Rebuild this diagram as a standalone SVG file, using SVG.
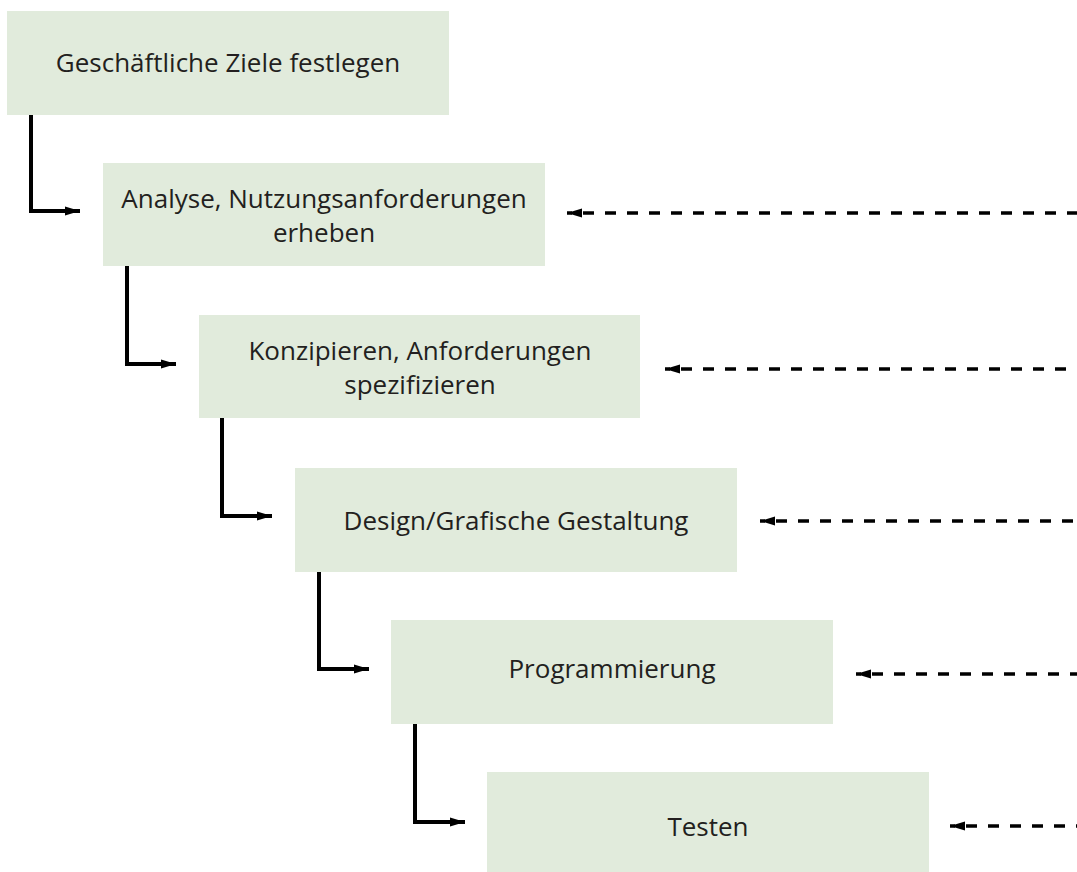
<svg xmlns="http://www.w3.org/2000/svg" width="1077" height="872" viewBox="0 0 1077 872">
  <style>
    .box { fill: #e1ebdc; }
    .label { font-family: "Open Sans", "Liberation Sans", sans-serif; font-size: 26px; fill: #231f20; text-anchor: middle; }
    .step { fill: none; stroke: #000; stroke-width: 4; marker-end: url(#solidHead); }
    .back { fill: none; stroke: #000; stroke-width: 3.5; stroke-dasharray: 11 11; stroke-dashoffset: 6; marker-start: url(#dashHead); }
  </style>
  <defs>
    <marker id="solidHead" markerUnits="userSpaceOnUse" markerWidth="16" markerHeight="12" refX="15" refY="6" orient="auto">
      <path d="M0,1.5 L15,6 L0,10.5 Z" fill="#000"/>
    </marker>
    <marker id="dashHead" markerUnits="userSpaceOnUse" markerWidth="16" markerHeight="12" refX="0" refY="6" orient="auto">
      <path d="M0,6 L15,1.5 L15,10.5 Z" fill="#000"/>
    </marker>
  </defs>
  <rect width="1077" height="872" fill="#fff"/>

  <g id="node-ziele">
    <rect class="box" x="7" y="11" width="442" height="104"/>
    <text class="label" x="228" y="72">Geschäftliche Ziele festlegen</text>
  </g>
  <g id="node-analyse">
    <rect class="box" x="103" y="163" width="442" height="103"/>
    <text class="label" x="324" y="208">Analyse, Nutzungsanforderungen</text>
    <text class="label" x="324" y="242">erheben</text>
  </g>
  <g id="node-konzipieren">
    <rect class="box" x="199" y="315" width="441" height="103"/>
    <text class="label" x="420" y="360">Konzipieren, Anforderungen</text>
    <text class="label" x="420" y="394">spezifizieren</text>
  </g>
  <g id="node-design">
    <rect class="box" x="295" y="468" width="442" height="104"/>
    <text class="label" x="516" y="530">Design/Grafische Gestaltung</text>
  </g>
  <g id="node-programmierung">
    <rect class="box" x="391" y="620" width="442" height="104"/>
    <text class="label" x="612" y="678">Programmierung</text>
  </g>
  <g id="node-testen">
    <rect class="box" x="487" y="772" width="442" height="100"/>
    <text class="label" x="708" y="836">Testen</text>
  </g>

  <g id="connectors">
    <!-- forward flow: elbow from each step down into the next -->
    <path class="step" d="M31,115 V211 H80"/>
    <path class="step" d="M127,266 V364 H176"/>
    <path class="step" d="M222,418 V516 H272"/>
    <path class="step" d="M319,572 V669 H369"/>
    <path class="step" d="M415,724 V822 H465"/>
    <!-- feedback: dashed lines coming in from the right edge, head at the left end -->
    <path class="back" d="M567,213 H1077"/>
    <path class="back" d="M665,369 H1077"/>
    <path class="back" d="M760,521 H1077"/>
    <path class="back" d="M856,674 H1077"/>
    <path class="back" d="M950,826 H1077"/>
  </g>
</svg>
